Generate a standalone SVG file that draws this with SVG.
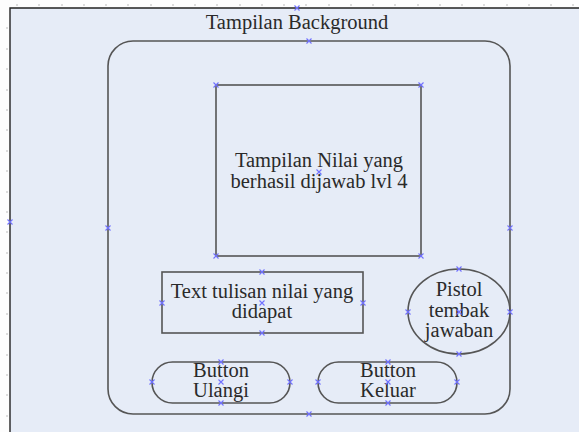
<svg xmlns="http://www.w3.org/2000/svg" width="579" height="432" viewBox="0 0 579 432">
<defs>
<style>
.shape{fill:none;stroke:#555;stroke-width:1.6}
.t{font-family:"Liberation Serif","Times New Roman",serif;font-size:20.5px;fill:#2a2a2a;text-anchor:middle}
.mk{stroke:#7070ff;stroke-width:1.1}
.tick{stroke:#bbb;stroke-width:1}
</style>
<symbol id="x" viewBox="-3 -3 6 6" overflow="visible"><path class="mk" d="M-2.5,-2.5L2.5,2.5M-2.5,2.5L2.5,-2.5"/></symbol>
</defs>
<rect x="0" y="0" width="579" height="432" fill="#fdfdfd"/>
<rect x="10" y="8" width="580" height="440" fill="#e6ecf7"/>
<path d="M10,432V8H579" fill="none" stroke="#222" stroke-width="1.4"/>
<g id="ruler">
<path class="tick" d="M17,4v2M39,4v2M62,4v2M84,4v2M106,4v2M128,4v2M151,4v2M173,4v2M195,4v2M217,4v2M240,4v2M262,4v2M284,4v2M306,4v2M329,4v2M351,4v2M373,4v2M395,4v2M418,4v2M440,4v2M462,4v2M484,4v2M507,4v2M529,4v2M551,4v2M573,4v2"/>
<path class="tick" d="M6,28h2M6,49h2M6,69h2M6,90h2M6,110h2M6,130h2M6,151h2M6,171h2M6,192h2M6,212h2M6,232h2M6,253h2M6,273h2M6,293h2M6,314h2M6,334h2M6,355h2M6,375h2M6,395h2M6,416h2"/>
</g>
<g id="background">
<text class="t" x="297" y="29" font-size="19.8">Tampilan Background</text>
<rect class="shape" x="108" y="41" width="402" height="373" rx="25" ry="25"/>
</g>
<g id="nilai">
<rect class="shape" x="216" y="85" width="205" height="171"/>
<text class="t" x="319" y="167">Tampilan Nilai yang</text>
<text class="t" x="319" y="188">berhasil dijawab lvl 4</text>
</g>
<g id="teks">
<rect class="shape" x="162" y="272" width="201" height="61"/>
<text class="t" x="262" y="298">Text tulisan nilai yang</text>
<text class="t" x="262" y="318">didapat</text>
</g>
<g id="pistol">
<ellipse class="shape" cx="459" cy="311.5" rx="51" ry="42.5"/>
<text class="t" x="459" y="296" font-size="20">Pistol</text>
<text class="t" x="459" y="317" font-size="20">tembak</text>
<text class="t" x="459" y="337" font-size="20">jawaban</text>
</g>
<g id="ulangi">
<rect class="shape" x="152" y="362" width="138" height="41" rx="20.5" ry="20.5"/>
<text class="t" x="221" y="377" font-size="20">Button</text>
<text class="t" x="221" y="397" font-size="20">Ulangi</text>
</g>
<g id="keluar">
<rect class="shape" x="318" y="362" width="139" height="41" rx="20.5" ry="20.5"/>
<text class="t" x="388" y="377" font-size="20">Button</text>
<text class="t" x="388" y="397" font-size="20">Keluar</text>
</g>
<g id="connectors"></g>
<g id="markers">
<use href="#x" x="294" y="5" width="6" height="6"/>
<use href="#x" x="306" y="38" width="6" height="6"/>
<use href="#x" x="7" y="219" width="6" height="6"/>
<use href="#x" x="105" y="225" width="6" height="6"/>
<use href="#x" x="507" y="225" width="6" height="6"/>
<use href="#x" x="213" y="82" width="6" height="6"/>
<use href="#x" x="418" y="82" width="6" height="6"/>
<use href="#x" x="213" y="253" width="6" height="6"/>
<use href="#x" x="418" y="253" width="6" height="6"/>
<use href="#x" x="316" y="169" width="6" height="6"/>
<use href="#x" x="259" y="269" width="6" height="6"/>
<use href="#x" x="259" y="300" width="6" height="6"/>
<use href="#x" x="159" y="300" width="6" height="6"/>
<use href="#x" x="360" y="300" width="6" height="6"/>
<use href="#x" x="259" y="330" width="6" height="6"/>
<use href="#x" x="456" y="266" width="6" height="6"/>
<use href="#x" x="405" y="309" width="6" height="6"/>
<use href="#x" x="456" y="309" width="6" height="6"/>
<use href="#x" x="507" y="309" width="6" height="6"/>
<use href="#x" x="456" y="351" width="6" height="6"/>
<use href="#x" x="218" y="359" width="6" height="6"/>
<use href="#x" x="149" y="379" width="6" height="6"/>
<use href="#x" x="218" y="379" width="6" height="6"/>
<use href="#x" x="287" y="379" width="6" height="6"/>
<use href="#x" x="218" y="400" width="6" height="6"/>
<use href="#x" x="385" y="359" width="6" height="6"/>
<use href="#x" x="315" y="379" width="6" height="6"/>
<use href="#x" x="385" y="379" width="6" height="6"/>
<use href="#x" x="454" y="379" width="6" height="6"/>
<use href="#x" x="385" y="400" width="6" height="6"/>
<use href="#x" x="306" y="411" width="6" height="6"/>
</g>
</svg>
